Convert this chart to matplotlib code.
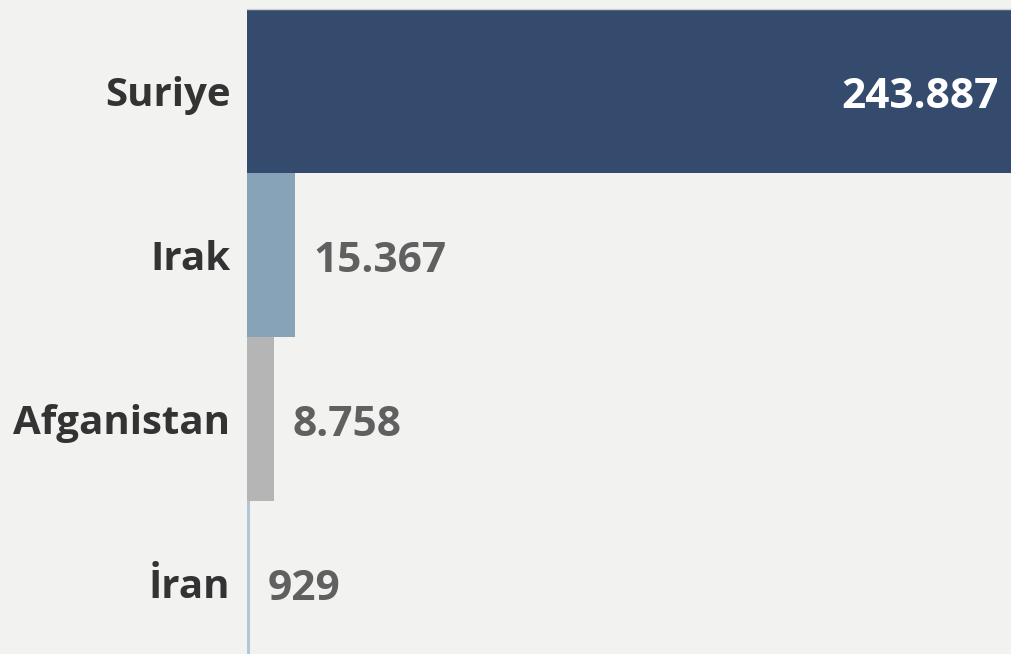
import matplotlib.pyplot as plt
from matplotlib.transforms import offset_copy

countries = ['Suriye', 'Irak', 'Afganistan', 'İran']
values = [243887, 15367, 8758, 929]
labels = ['243.887', '15.367', '8.758', '929']
colors = ['#354b6e', '#87a3b7', '#b5b5b5', '#b3c6d6']

plt.rcParams['font.family'] = ['Open Sans', 'DejaVu Sans']
bg = '#f2f2f0'

fig = plt.figure(figsize=(10.11, 6.54), dpi=100, facecolor=bg)
ax = fig.add_axes([247 / 1011, 0, 1 - 247 / 1011, 1 - 9 / 654])
ax.set_facecolor(bg)

ypos = list(range(len(countries)))
ax.barh(ypos, values, height=1.0, color=colors)

ax.set_xlim(0, values[0])
ax.set_ylim(-0.5 + 645 / 164, -0.5)

ax.set_yticks(ypos)
ax.set_yticklabels(countries, fontsize=29, fontweight='bold', color='#333333')
ax.tick_params(axis='y', length=0, pad=12)
ax.set_xticks([])
for s in ['left', 'right', 'bottom']:
    ax.spines[s].set_visible(False)
ax.spines['top'].set_color('#d0d0d0')
ax.spines['top'].set_linewidth(1.0)

for i, (v, lab) in enumerate(zip(values, labels)):
    if i == 0:
        tr = offset_copy(ax.transData, fig=fig, x=-12, y=-6, units='dots')
        ax.text(v, i, lab, transform=tr, ha='right', va='center',
                fontsize=30.5, fontweight='bold', color='white')
    else:
        tr = offset_copy(ax.transData, fig=fig, x=18, y=-7, units='dots')
        ax.text(v, i, lab, transform=tr, ha='left', va='center',
                fontsize=30.5, fontweight='bold', color='#606060')

fig.savefig('out.png', dpi=100, facecolor=bg)
